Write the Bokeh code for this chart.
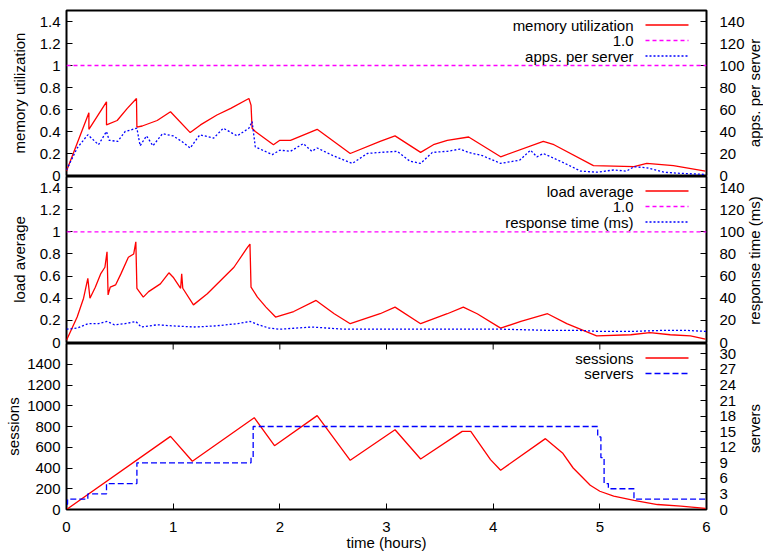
import math
from bokeh.plotting import figure
from bokeh.models import Range1d, LinearAxis, FixedTicker, Span, Label
from bokeh.layouts import column, row
from bokeh.embed import file_html
from bokeh.resources import INLINE

# ---------------- data ----------------
mem_t = [0, 0.21, 0.21, 0.375, 0.375, 0.475, 0.57, 0.656, 0.66, 0.71, 0.85, 0.975, 1.16, 1.256,
         1.41, 1.54, 1.71, 1.73, 1.74, 1.77, 1.94, 2.0, 2.1, 2.35, 2.66, 2.94, 3.08, 3.32, 3.44,
         3.57, 3.77, 4.07, 4.47, 4.57, 4.94, 5.32, 5.44, 5.69, 5.99]
mem_util = [0.04, 0.57, 0.42, 0.67, 0.46, 0.50, 0.61, 0.70, 0.44, 0.45, 0.50, 0.58, 0.39, 0.46,
            0.55, 0.61, 0.70, 0.64, 0.43, 0.40, 0.28, 0.32, 0.32, 0.42, 0.20, 0.31, 0.36, 0.21, 0.28,
            0.32, 0.35, 0.17, 0.31, 0.28, 0.09, 0.08, 0.11, 0.09, 0.04]

apps_t = [0, 0.1, 0.2, 0.3, 0.375, 0.4, 0.48, 0.55, 0.66, 0.69, 0.75, 0.81, 0.9, 1.0, 1.08, 1.16,
          1.25, 1.38, 1.47, 1.6, 1.71, 1.74, 1.77, 1.93, 2.0, 2.1, 2.22, 2.3, 2.35, 2.5, 2.68, 2.82,
          2.94, 3.1, 3.22, 3.32, 3.43, 3.57, 3.69, 3.77, 3.9, 4.07, 4.25, 4.35, 4.41, 4.47, 4.63,
          4.82, 4.97, 5.13, 5.25, 5.32, 5.44, 5.6, 5.75, 5.99]
apps_per_server = [5, 25, 37, 28, 40, 32, 31, 40, 43, 27, 36, 27, 38, 36, 31, 25, 37, 34, 43, 36,
                   43, 49, 26, 19, 23, 22, 29, 22, 25, 18, 11, 20, 21, 22, 13, 11, 21, 22, 24, 21,
                   18, 11, 14, 23, 17, 20, 13, 4, 3, 5, 4, 8, 7, 3, 2, 1]

load_t = [0, 0.1, 0.16, 0.2, 0.22, 0.27, 0.32, 0.36, 0.38, 0.39, 0.41, 0.46, 0.51, 0.58, 0.63,
          0.65, 0.66, 0.72, 0.77, 0.88, 0.96, 1.0, 1.07, 1.08, 1.09, 1.19, 1.32, 1.57, 1.69, 1.72,
          1.73, 1.79, 1.87, 1.96, 2.13, 2.34, 2.51, 2.66, 2.94, 3.08, 3.32, 3.57, 3.72, 3.85, 4.07,
          4.26, 4.51, 4.69, 4.97, 5.29, 5.47, 5.66, 5.85, 5.99]
load_avg = [0.02, 0.23, 0.40, 0.58, 0.40, 0.50, 0.62, 0.68, 0.82, 0.43, 0.50, 0.52, 0.62, 0.77,
            0.80, 0.91, 0.49, 0.41, 0.46, 0.53, 0.63, 0.59, 0.49, 0.62, 0.49, 0.34, 0.44, 0.68,
            0.85, 0.89, 0.50, 0.41, 0.32, 0.23, 0.28, 0.38, 0.26, 0.17, 0.26, 0.32, 0.17, 0.26,
            0.32, 0.26, 0.13, 0.19, 0.26, 0.17, 0.06, 0.07, 0.09, 0.07, 0.06, 0.03]

resp_t = [0, 0.1, 0.2, 0.3, 0.38, 0.45, 0.55, 0.65, 0.7, 0.85, 1.0, 1.2, 1.4, 1.6, 1.72, 1.8, 1.9,
          2.0, 2.3, 2.6, 2.9, 3.3, 3.7, 4.1, 4.5, 4.8, 5.0, 5.3, 5.6, 5.8, 6.0]
resp_ms = [12, 13, 17, 17, 19, 16, 17, 19, 14, 16, 15, 14, 15, 17, 19, 16, 13, 12, 14, 12, 12, 12,
           12, 12, 11, 11, 10, 10, 11, 11, 10]

sess_t = [0, 0.975, 1.18, 1.76, 1.95, 2.35, 2.66, 3.08, 3.32, 3.71, 3.79, 3.975, 4.07, 4.49, 4.65,
          4.75, 4.91, 5.0, 5.13, 5.32, 5.54, 5.76, 5.99]
sessions = [0, 705, 465, 885, 615, 905, 474, 769, 487, 753, 753, 481, 378, 683, 545, 400, 234,
            176, 128, 87, 48, 32, 10]

srv_t = [0, 0.01, 0.2, 0.375, 0.66, 1.73, 1.75, 4.98, 5.01, 5.04, 5.08, 5.32, 6.0]
servers = [1, 2, 3, 5, 9, 10, 16, 14, 10, 5, 4, 2, 2]

hour_ticks = [0, 1, 2, 3, 4, 5, 6]
ratio_ticks = [0, 0.2, 0.4, 0.6, 0.8, 1, 1.2, 1.4]
ratio_tick_labels = ["0", "0.2", "0.4", "0.6", "0.8", "1", "1.2", "1.4"]
right_ticks = [0, 20, 40, 60, 80, 100, 120, 140]
sess_ticks = [0, 200, 400, 600, 800, 1000, 1200, 1400]
srv_ticks = [0, 3, 6, 9, 12, 15, 18, 21, 24, 27, 30]
right_titles = ["apps. per server", "response time (ms)", "servers"]

# ---------------- layout / style ----------------
FONT = "Liberation Sans"
FS = "15px"
W = 747                             # main column width
TITLE_W = 16                        # strip holding the right-hand axis titles
TOTAL_H = 553
LEFT, RIGHT = 66, 41
FRAME_W = W - LEFT - RIGHT          # 640
H1, H2, H3 = 165, 166, 166          # frame heights
OVER = 9                            # bottom overflow of panels 1-2 (keeps "0" labels whole)
FRAME_TOPS = [10, 177, 345]         # page y of each frame top
RED, BLUE, MAG = "#ff0000", "#0000ff", "#ff00ff"

# legend geometry in frame pixels
LEG_TEXT_R = 567
LEG_X0, LEG_X1 = 579, 622
LEG_ROWS = [14.5, 30, 45.5]


def px2x(px):
    return 6.0 * px / FRAME_W


def style_axis(ax, ticks, label, tick_standoff, label_standoff, overrides=None):
    ax.ticker = FixedTicker(ticks=ticks)
    if overrides:
        ax.major_label_overrides = overrides
    if label:
        ax.axis_label = label
    ax.axis_label_text_font = FONT
    ax.axis_label_text_font_size = FS
    ax.axis_label_text_font_style = "normal"
    ax.axis_label_text_color = "black"
    ax.axis_label_standoff = label_standoff
    ax.major_label_text_font = FONT
    ax.major_label_text_font_size = FS
    ax.major_label_text_color = "black"
    ax.major_label_standoff = tick_standoff
    ax.axis_line_color = None
    ax.major_tick_in = 6
    ax.major_tick_out = 0
    ax.major_tick_line_color = "black"
    ax.major_tick_line_width = 1
    ax.minor_tick_line_color = None


def make_fig(top, frame_h, bottom, y_end, x_axis):
    p = figure(width=W, height=top + frame_h + bottom, x_range=Range1d(0, 6),
               y_range=Range1d(0, y_end), output_backend="svg", toolbar_location=None,
               x_axis_location="below" if x_axis else None, y_axis_location="left",
               min_border_left=LEFT, min_border_right=RIGHT,
               min_border_top=top, min_border_bottom=bottom,
               background_fill_color=None, border_fill_color=None,
               outline_line_color="black", outline_line_width=2)
    p.grid.visible = False
    return p


def add_legend(p, y_end, frame_h, entries):
    for r, (text, color, dash) in zip(LEG_ROWS, entries):
        y = y_end * (1 - r / frame_h)
        p.add_layout(Label(x=px2x(LEG_TEXT_R), y=y, text=text, text_align="right",
                           text_baseline="middle", text_font=FONT, text_font_size=FS,
                           text_color="black"))
        p.segment(x0=[px2x(LEG_X0)], y0=[y], x1=[px2x(LEG_X1)], y1=[y],
                  line_color=color, line_dash=dash, line_width=1.3)


def right_axis(p, rng, ticks):
    ax = LinearAxis(y_range_name=rng)
    style_axis(ax, ticks, None, 13, 0)
    p.add_layout(ax, "right")


ratio_over = {t: l for t, l in zip(ratio_ticks, ratio_tick_labels)}

# ---------- panel 1: memory ----------
p1 = make_fig(10, H1, OVER, 1.5, False)
p1.extra_y_ranges = {"apps": Range1d(0, 150)}
style_axis(p1.yaxis[0], ratio_ticks, "memory utilization", 6, 9, ratio_over)
right_axis(p1, "apps", right_ticks)
p1.line(mem_t, mem_util, line_color=RED, line_width=1.3)
p1.add_layout(Span(location=1, dimension="width", line_color=MAG, line_dash="4 3", line_width=1.4))
p1.line(apps_t, apps_per_server, y_range_name="apps", line_color=BLUE, line_dash="2 2", line_width=1.3)
add_legend(p1, 1.5, H1, [("memory utilization", RED, "solid"), ("1.0", MAG, "4 3"),
                         ("apps. per server", BLUE, "2 2")])

# ---------- panel 2: load ----------
p2 = make_fig(1, H2, OVER, 1.5, False)
p2.margin = (-OVER, 0, 0, 0)
p2.extra_y_ranges = {"resp": Range1d(0, 150)}
style_axis(p2.yaxis[0], ratio_ticks, "load average", 6, 9, ratio_over)
right_axis(p2, "resp", right_ticks)
p2.line(load_t, load_avg, line_color=RED, line_width=1.3)
p2.add_layout(Span(location=1, dimension="width", line_color=MAG, line_dash="4 3", line_width=1.4))
p2.line(resp_t, resp_ms, y_range_name="resp", line_color=BLUE, line_dash="2 2", line_width=1.3)
add_legend(p2, 1.5, H2, [("load average", RED, "solid"), ("1.0", MAG, "4 3"),
                         ("response time (ms)", BLUE, "2 2")])

# ---------- panel 3: sessions ----------
p3 = make_fig(1, H3, 44, 1600, True)
p3.margin = (-OVER, 0, 0, 0)
p3.extra_y_ranges = {"srv": Range1d(0, 32)}
style_axis(p3.yaxis[0], sess_ticks, "sessions", 6, 2)
style_axis(p3.xaxis[0], hour_ticks, "time (hours)", 12, -1)
right_axis(p3, "srv", srv_ticks)
# inward tick marks on the top border of the bottom panel
tick_len = 1600 * 6 / H3
p3.segment(x0=hour_ticks, y0=[1600] * len(hour_ticks), x1=hour_ticks,
           y1=[1600 - tick_len] * len(hour_ticks), line_color="black", line_width=1)
p3.line(sess_t, sessions, line_color=RED, line_width=1.3)
p3.step(srv_t, servers, mode="after", y_range_name="srv", line_color=BLUE, line_dash="6 3",
        line_width=1.3)
add_legend(p3, 1600, H3, [("sessions", RED, "solid"), ("servers", BLUE, "6 3")])

# ---------- strip with the right-hand axis titles (read bottom-to-top) ----------
pt = figure(width=TITLE_W, height=TOTAL_H, x_range=Range1d(0, TITLE_W),
            y_range=Range1d(0, TOTAL_H), output_backend="svg", toolbar_location=None,
            x_axis_location=None, y_axis_location=None, min_border=0,
            background_fill_color=None, border_fill_color=None, outline_line_color=None)
pt.grid.visible = False
for title, top, fh in zip(right_titles, FRAME_TOPS, [H1, H2, H3]):
    pt.add_layout(Label(x=6.5, y=TOTAL_H - (top + fh / 2), text=title, angle=math.pi / 2,
                        text_align="center", text_baseline="middle", text_font=FONT,
                        text_font_size=FS, text_color="black"))

layout = row(column(p1, p2, p3, spacing=0), pt, spacing=0)
open("out.html", "w").write(file_html(layout, INLINE))
